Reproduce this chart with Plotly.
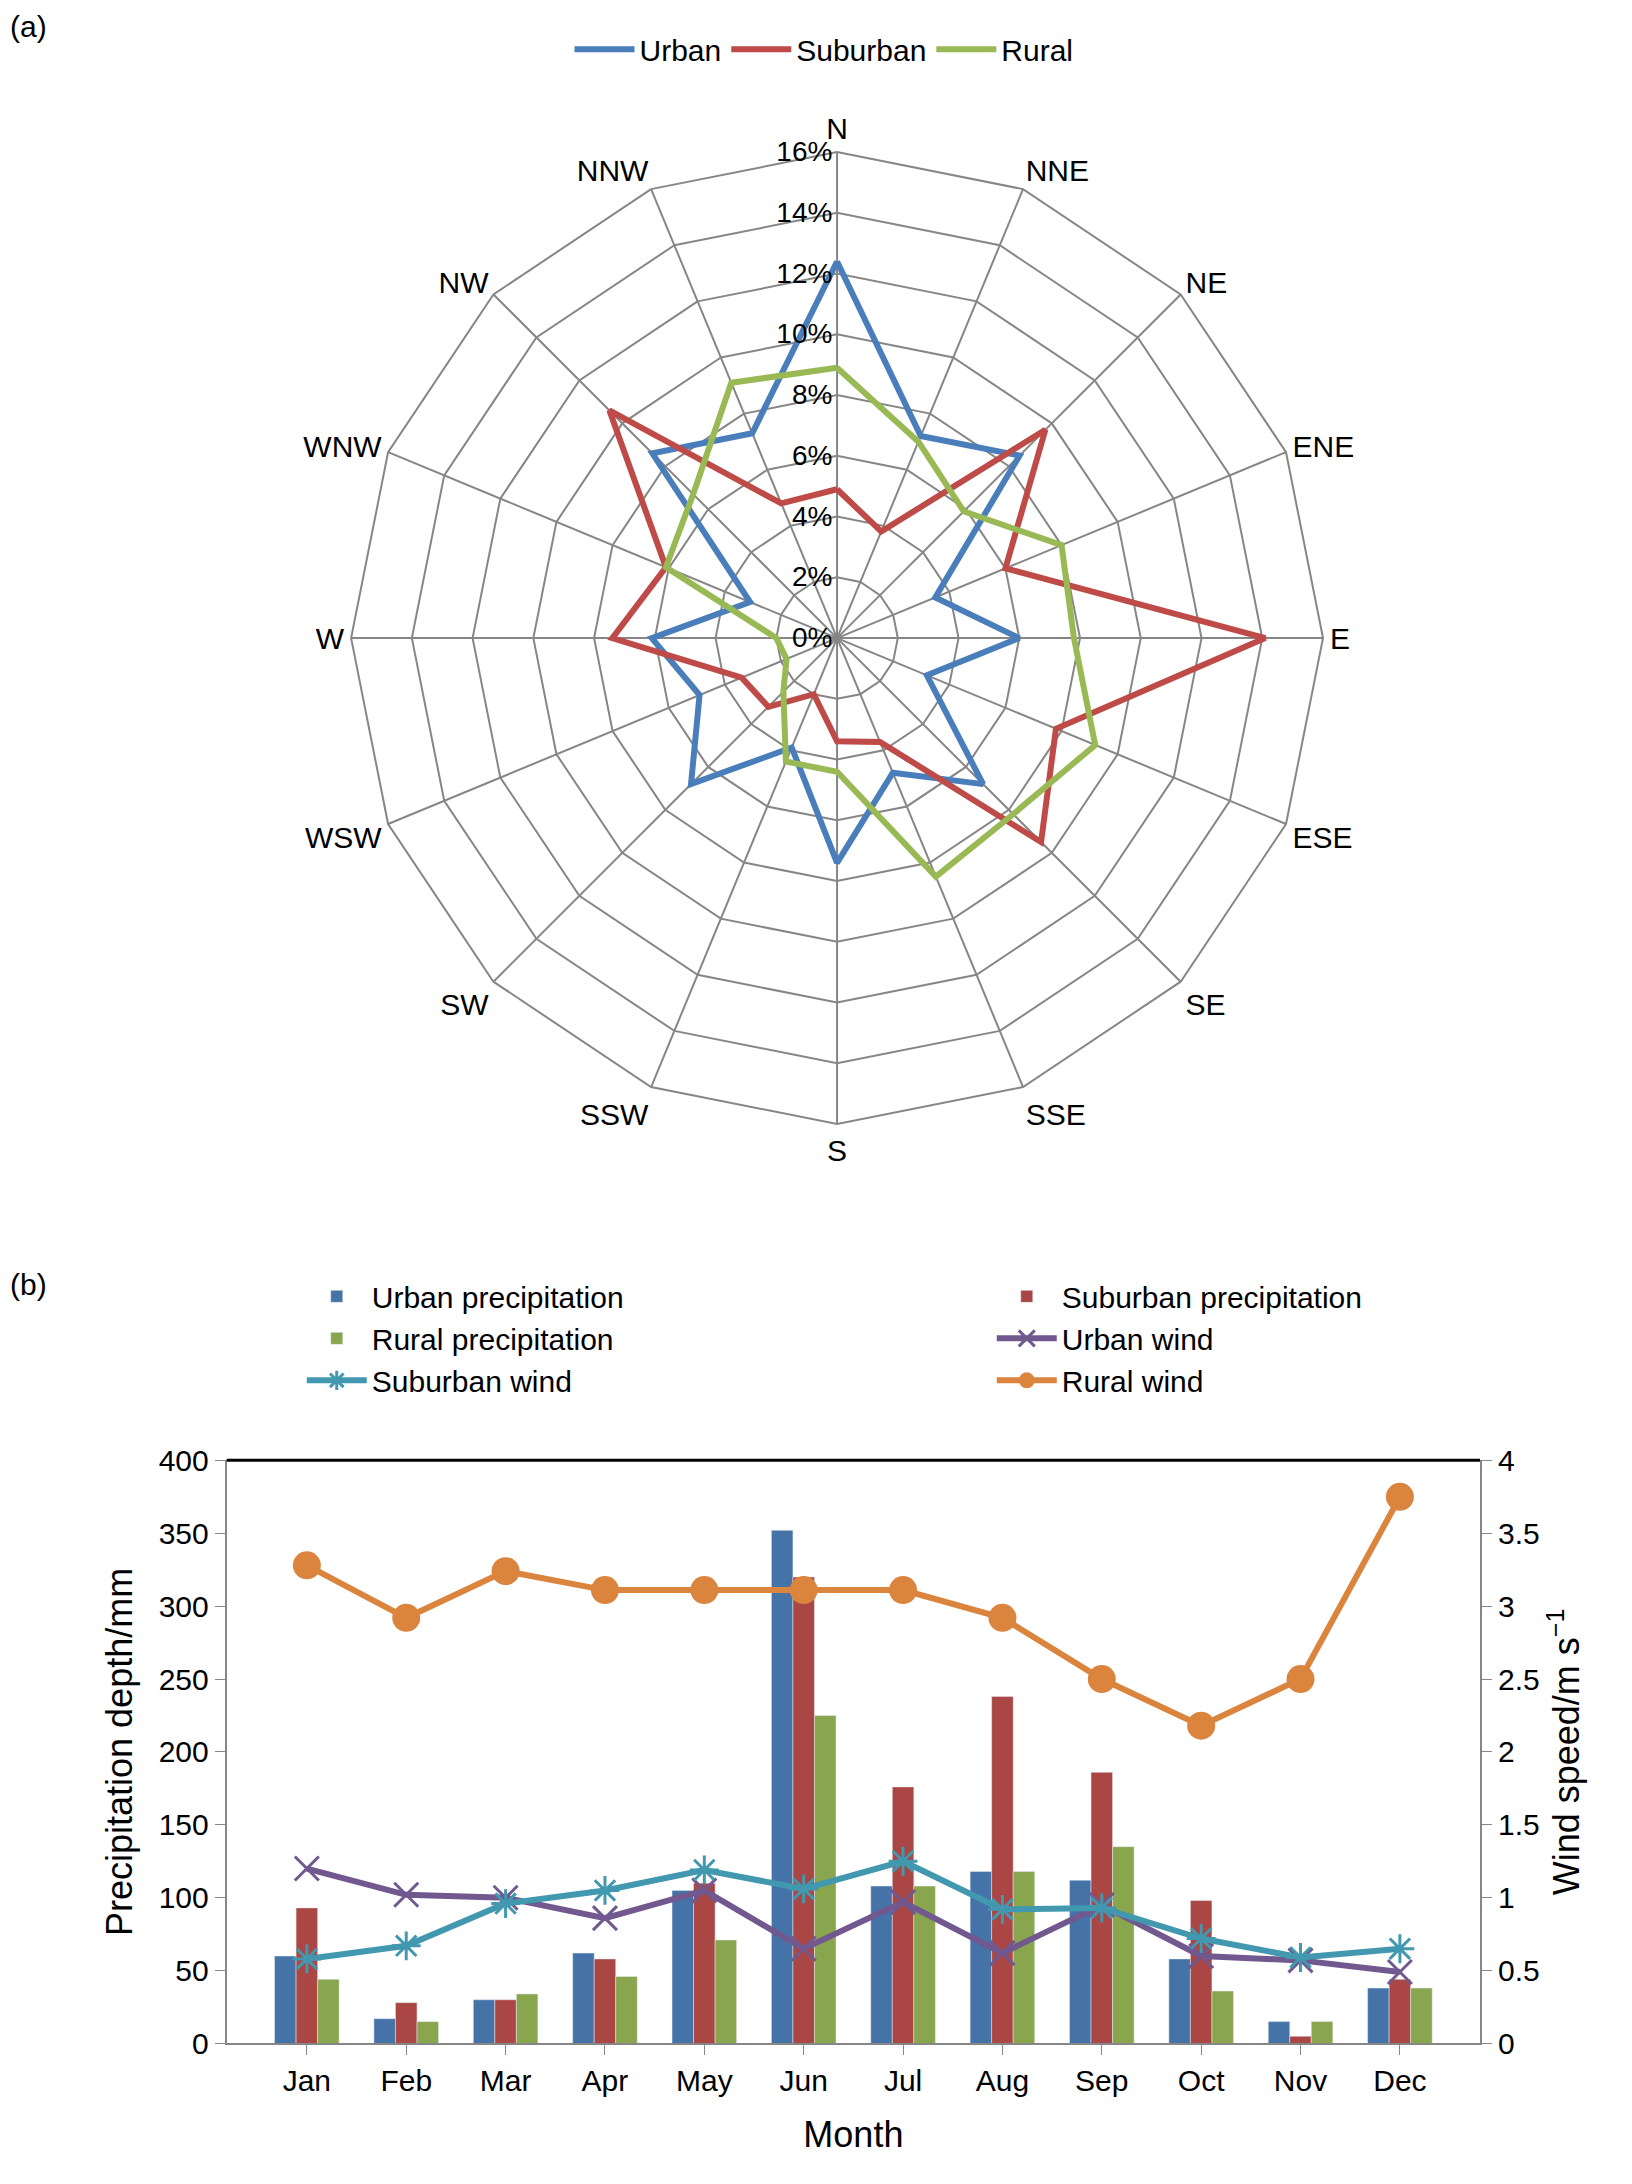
import plotly.graph_objects as go

# (a) wind direction frequency (%)
directions = ["N", "NNE", "NE", "ENE", "E", "ESE", "SE", "SSE",
              "S", "SSW", "SW", "WSW", "W", "WNW", "NW", "NNW"]
urban_dir = [12.4, 7.2, 8.5, 3.5, 6.0, 3.2, 6.8, 4.8, 7.4, 3.9, 6.8, 4.9, 6.1, 3.1, 8.6, 7.3]
suburban_dir = [4.9, 3.8, 9.7, 6.0, 14.1, 7.8, 9.5, 3.7, 3.4, 2.0, 3.2, 3.4, 7.4, 6.1, 10.6, 4.8]
rural_dir = [8.9, 7.0, 5.9, 8.0, 7.8, 9.2, 8.2, 8.5, 4.4, 4.4, 2.5, 1.8, 2.0, 6.1, 6.7, 9.1]

# (b) monthly precipitation (mm) and wind speed (m/s)
months = ["Jan", "Feb", "Mar", "Apr", "May", "Jun", "Jul", "Aug", "Sep", "Oct", "Nov", "Dec"]
urban_prec = [60, 17, 30, 62, 105, 352, 108, 118, 112, 58, 15, 38]
suburban_prec = [93, 28, 30, 58, 110, 320, 176, 238, 186, 98, 5, 44]
rural_prec = [44, 15, 34, 46, 71, 225, 108, 118, 135, 36, 15, 38]
urban_wind = [1.2, 1.02, 1.0, 0.86, 1.05, 0.65, 0.97, 0.62, 0.95, 0.6, 0.57, 0.49]
suburban_wind = [0.58, 0.67, 0.96, 1.05, 1.19, 1.06, 1.25, 0.92, 0.93, 0.72, 0.59, 0.65]
rural_wind = [3.28, 2.92, 3.24, 3.11, 3.11, 3.11, 3.11, 2.92, 2.5, 2.18, 2.5, 3.75]

FONT = "Liberation Sans, Arial, sans-serif"
fig = go.Figure()

# closed loops for radar
def closed(v):
    return v + v[:1]

for name, vals, col in [("Urban", urban_dir, "#4a7ebb"),
                        ("Suburban", suburban_dir, "#be4b48"),
                        ("Rural", rural_dir, "#98b954")]:
    fig.add_trace(go.Scatterpolar(r=closed(vals), theta=closed(directions), mode="lines",
                                  name=name, line=dict(color=col, width=6), legend="legend"))

bar_cols = ["#4572a7", "#aa4643", "#89a54e"]
for name, vals, col in [("Urban precipitation", urban_prec, bar_cols[0]),
                        ("Suburban precipitation", suburban_prec, bar_cols[1]),
                        ("Rural precipitation", rural_prec, bar_cols[2])]:
    fig.add_trace(go.Bar(x=months, y=vals, name=name, marker_color=col,
                         xaxis="x", yaxis="y", legend="legend2"))

fig.add_trace(go.Scatter(x=months, y=urban_wind, name="Urban wind", mode="lines+markers",
                         line=dict(color="#71588f", width=6),
                         marker=dict(symbol="x-thin", size=24, line=dict(color="#71588f", width=3)),
                         xaxis="x", yaxis="y2", legend="legend2"))
fig.add_trace(go.Scatter(x=months, y=suburban_wind, name="Suburban wind", mode="lines+markers",
                         line=dict(color="#4198af", width=6),
                         marker=dict(symbol="asterisk-open", size=24, line=dict(color="#4198af", width=3)),
                         xaxis="x", yaxis="y2", legend="legend2"))
fig.add_trace(go.Scatter(x=months, y=rural_wind, name="Rural wind", mode="lines+markers",
                         line=dict(color="#db843d", width=6),
                         marker=dict(symbol="circle", size=28, color="#db843d"),
                         xaxis="x", yaxis="y2", legend="legend2"))

fig.update_layout(
    width=1632, height=2184,
    paper_bgcolor="white", plot_bgcolor="white",
    font=dict(family=FONT, size=30, color="black"),
    margin=dict(l=0, r=0, t=0, b=0, autoexpand=False),
    barmode="group", bargap=0.35, bargroupgap=0,
    polar=dict(
        domain=dict(x=[0.21, 0.806], y=[0.489, 0.934]),
        gridshape="linear", bgcolor="white",
        angularaxis=dict(rotation=90, direction="clockwise", gridcolor="#868686",
                         linecolor="#868686", linewidth=2, gridwidth=2, showline=True,
                         ticks="", tickfont=dict(size=30)),
        radialaxis=dict(range=[0, 16], dtick=2, ticksuffix="%", angle=90, tickangle=90,
                        side="counterclockwise",
                        gridcolor="#868686", gridwidth=2, showline=False, ticks="",
                        tickfont=dict(size=28)),
    ),
    legend=dict(orientation="h", x=0.5, xanchor="center", y=0.993, yanchor="top",
                font=dict(size=30), itemwidth=60),
    legend2=dict(orientation="h", x=0.18, xanchor="left", y=0.422, yanchor="top",
                 entrywidth=615, entrywidthmode="pixels", font=dict(size=30),
                 traceorder="normal", itemwidth=60),
    xaxis=dict(domain=[0.134, 0.902], anchor="y", showline=True, linecolor="#868686",
               linewidth=2, ticks="outside", tickcolor="#868686", ticklen=10,
               automargin=False,
               title=dict(text="Month", standoff=25), tickfont=dict(size=30)),
    yaxis=dict(domain=[0.068, 0.335], range=[0, 400], dtick=50, showgrid=False,
               showline=True, linecolor="#868686", linewidth=2, ticks="outside",
               tickcolor="#868686", ticklen=10, mirror=False, automargin=False,
               title=dict(text="Precipitation depth/mm", standoff=15)),
    yaxis2=dict(overlaying="y", side="right", anchor="x", range=[0, 4], dtick=0.5,
                showgrid=False, showline=True, linecolor="#868686", linewidth=2,
                ticks="outside", tickcolor="#868686", ticklen=10, automargin=False,
                title=dict(text="Wind speed/m s<sup>−1</sup>", standoff=15)),
    shapes=[dict(type="line", xref="x domain", yref="y domain", x0=0, x1=1, y0=1, y1=1,
                 line=dict(color="black", width=3))],
    annotations=[
        dict(text="(a)", x=0.0, y=1.0, xref="paper", yref="paper", xanchor="left",
             yanchor="top", showarrow=False, font=dict(size=30)),
        dict(text="(b)", x=0.0, y=0.424, xref="paper", yref="paper", xanchor="left",
             yanchor="top", showarrow=False, font=dict(size=30)),
    ],
)

fig.write_html("out.html")
